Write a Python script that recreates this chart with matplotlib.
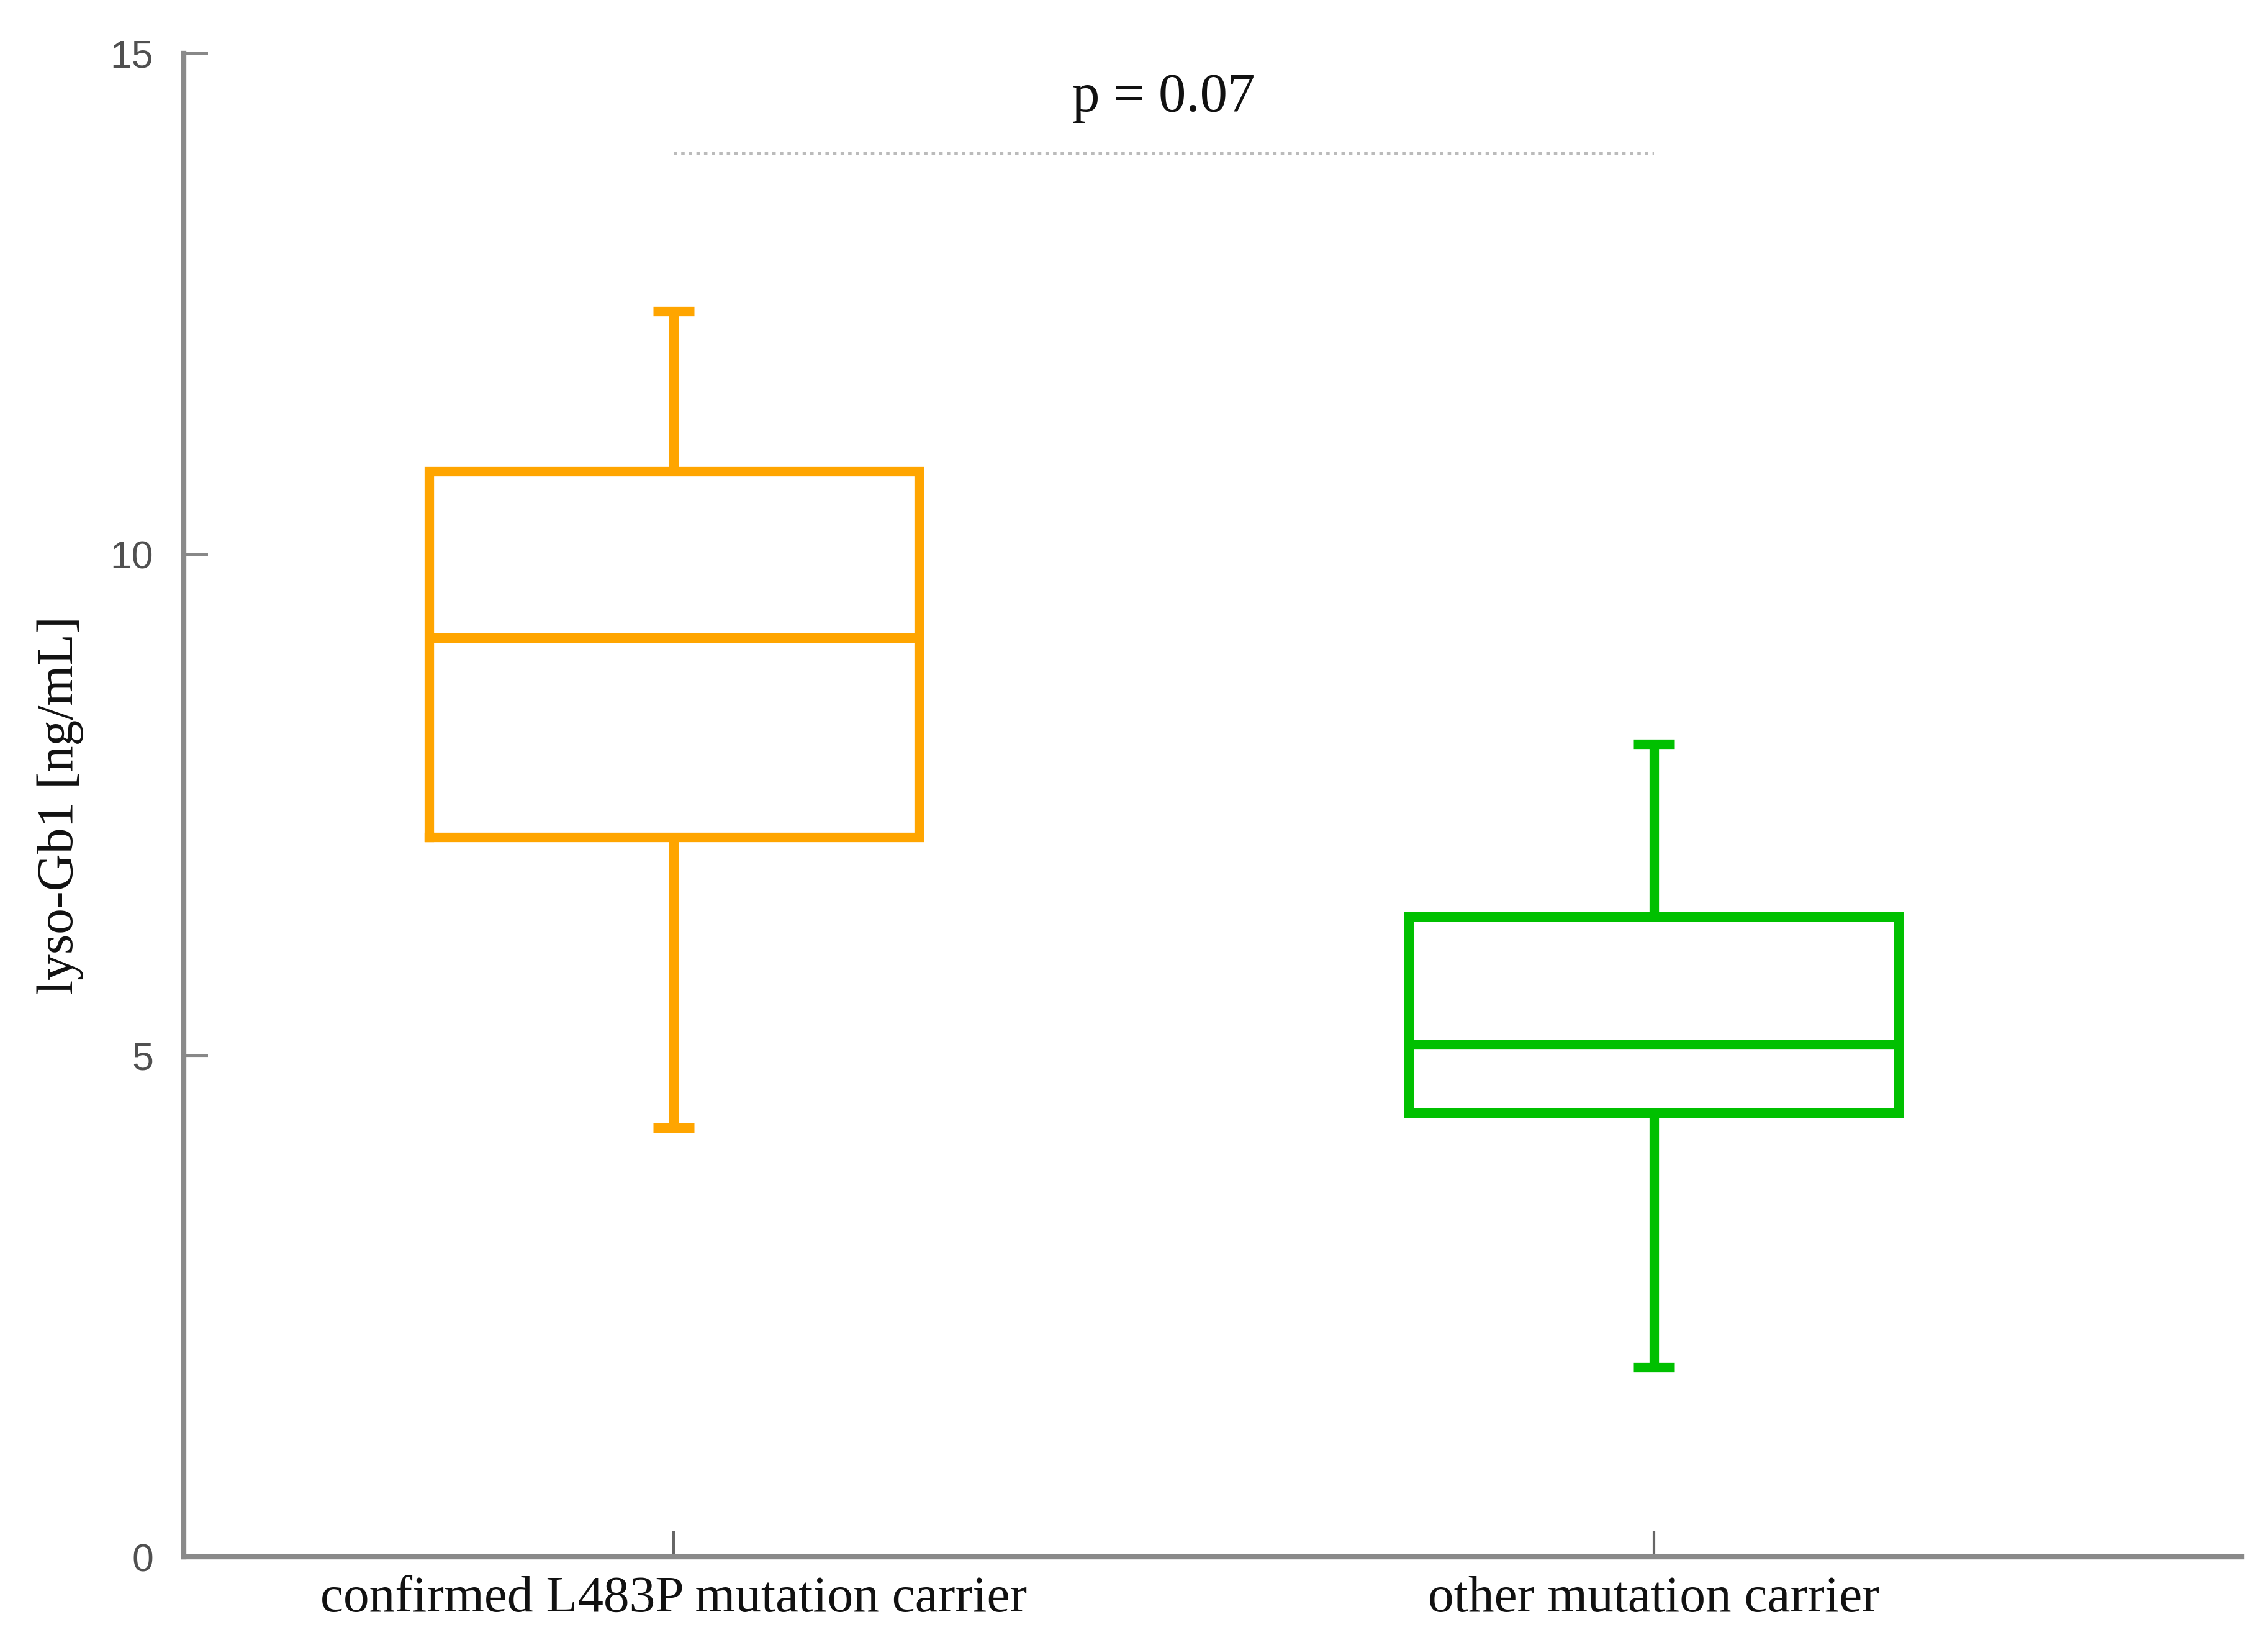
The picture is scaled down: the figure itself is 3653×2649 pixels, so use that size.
import matplotlib.pyplot as plt

groups = ["confirmed L483P mutation carrier", "other mutation carrier"]
medians = [9.17, 5.11]
q1 = [7.18, 4.43]
q3 = [10.83, 6.39]
whis_lo = [4.28, 1.89]
whis_hi = [12.43, 8.11]
colors = ["#FFA500", "#00C000"]
p_text = "p = 0.07"
p_line_y = 14.0

stats = []
for i, g in enumerate(groups):
    stats.append({"label": g, "med": medians[i], "q1": q1[i], "q3": q3[i],
                  "whislo": whis_lo[i], "whishi": whis_hi[i], "fliers": []})

fig = plt.figure(figsize=(36.53, 26.49), dpi=100)
ax = fig.add_axes([0.081, 0.0536, 0.9075, 0.914])

positions = [1, 2]
for i in range(len(groups)):
    lp = dict(color=colors[i], linewidth=11, solid_capstyle="projecting",
              solid_joinstyle="miter")
    ax.bxp([stats[i]], positions=[positions[i]], widths=0.5, capwidths=0.042,
           showfliers=False, boxprops=lp, whiskerprops=dict(lp, solid_capstyle="butt"),
           capprops=dict(lp, solid_capstyle="butt"), medianprops=dict(lp, solid_capstyle="butt"),
           manage_ticks=False)

ax.plot(positions, [p_line_y, p_line_y], color="#bbbbbb", linewidth=4,
        linestyle=(0, (1, 1.2)))
ax.text(1.5, 14.42, p_text, ha="center", va="baseline", fontsize=64,
        family="Liberation Serif", color="#111111")

ax.set_xlim(0.5, 2.6)
ax.set_ylim(0, 15)
ax.set_xticks(positions)
ax.set_xticklabels(groups, family="Liberation Serif", fontsize=60, color="#111111")
ax.set_yticks([0, 5, 10, 15])
ax.set_yticklabels(["0", "5", "10", "15"], family="Liberation Sans", fontsize=45,
                   color="#505050")
ax.tick_params(axis="y", direction="in", length=28, width=3, color="#888888", pad=35)
ax.tick_params(axis="x", direction="in", length=30, width=3, color="#666666", pad=22)
ax.set_ylabel("lyso-Gb1 [ng/mL]", family="Liberation Serif", fontsize=60,
              color="#111111", labelpad=31)

for s in ["top", "right"]:
    ax.spines[s].set_visible(False)
for s in ["left", "bottom"]:
    ax.spines[s].set_color("#8a8a8a")
    ax.spines[s].set_linewidth(6)

fig.savefig("out.png", dpi=100, facecolor="white")
